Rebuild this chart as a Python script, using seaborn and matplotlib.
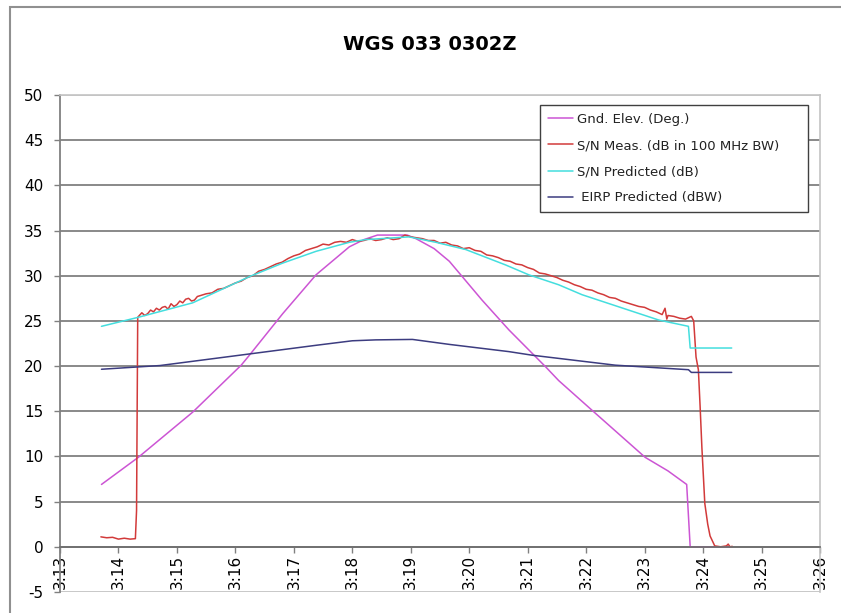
import pandas as pd
import matplotlib
matplotlib.use("Agg")
import matplotlib.pyplot as plt
import seaborn as sns
from matplotlib.patches import Rectangle

# chart text
title = "WGS 033 0302Z"
series_names = ["Gnd. Elev. (Deg.)", "S/N Meas. (dB in 100 MHz BW)",
                "S/N Predicted (dB)", " EIRP Predicted (dBW)"]
series_colors = ["#cc55d4", "#d23a3a", "#44dede", "#3c3c80"]
tick_minutes = list(range(13, 27))
tick_labels = [f"3:{m}" for m in tick_minutes]

# time in minutes after 3:00
elev_t = [13.71, 14.34, 15.27, 16.10, 16.24, 16.81, 17.38, 17.95, 18.20, 18.43,
          18.94, 19.09, 19.40, 19.66, 20.22, 20.68, 21.31, 21.53, 22.12, 23.01,
          23.40, 23.72, 23.78, 24.49]
elev_v = [6.9, 9.9, 14.9, 20.1, 21.2, 25.8, 30.1, 33.2, 34.0, 34.5,
          34.5, 34.1, 33.0, 31.6, 27.3, 24.0, 19.9, 18.4, 15.0, 9.9,
          8.4, 6.9, 0.0, 0.0]

meas_t = [13.70, 13.80, 13.90, 14.00, 14.10, 14.20, 14.29, 14.31, 14.33,
          14.40, 14.45, 14.50, 14.55, 14.60, 14.65, 14.70, 14.75, 14.80, 14.85,
          14.90, 14.95, 15.00, 15.05, 15.10, 15.15, 15.20, 15.25, 15.30, 15.35,
          15.40, 15.50, 15.60, 15.70, 15.80, 15.90, 16.00, 16.10, 16.20, 16.30,
          16.40, 16.50, 16.60, 16.70, 16.80, 16.90, 17.00, 17.10, 17.20, 17.30,
          17.40, 17.50, 17.60, 17.70, 17.80, 17.90, 18.00, 18.10, 18.20, 18.30,
          18.40, 18.50, 18.60, 18.70, 18.80, 18.90, 19.00, 19.10, 19.20, 19.30,
          19.40, 19.50, 19.60, 19.70, 19.80, 19.90, 20.00, 20.10, 20.20, 20.30,
          20.40, 20.50, 20.60, 20.70, 20.80, 20.90, 21.00, 21.10, 21.20, 21.30,
          21.40, 21.50, 21.60, 21.70, 21.80, 21.90, 22.00, 22.10, 22.20, 22.30,
          22.40, 22.50, 22.60, 22.70, 22.80, 22.90, 23.00, 23.10, 23.20, 23.30,
          23.35, 23.38, 23.40, 23.50, 23.60, 23.70, 23.80, 23.84, 23.88, 23.92,
          23.95, 23.98, 24.03, 24.08, 24.12, 24.20, 24.30, 24.40, 24.43, 24.46,
          24.50]
meas_v = [1.1, 1.0, 1.05, 0.85, 0.95, 0.85, 0.9, 4.0, 25.4,
          25.9, 25.6, 25.8, 26.2, 26.0, 26.4, 26.2, 26.5, 26.6, 26.3,
          26.9, 26.6, 26.8, 27.2, 27.0, 27.4, 27.5, 27.2, 27.3, 27.7,
          27.8, 28.0, 28.1, 28.5, 28.6, 28.9, 29.2, 29.4, 29.8, 30.0,
          30.5, 30.7, 31.0, 31.3, 31.5, 31.9, 32.2, 32.4, 32.8, 33.0,
          33.2, 33.5, 33.4, 33.7, 33.8, 33.7, 34.0, 33.8, 33.9, 34.1,
          33.9, 34.0, 34.2, 34.0, 34.1, 34.5, 34.3, 34.2, 34.1, 33.9,
          33.9, 33.6, 33.7, 33.4, 33.3, 33.0, 33.1, 32.8, 32.7, 32.3,
          32.2, 32.0, 31.7, 31.6, 31.3, 31.2, 30.9, 30.7, 30.3, 30.2,
          30.0, 29.8, 29.5, 29.3, 29.0, 28.8, 28.5, 28.4, 28.1, 27.9,
          27.6, 27.5, 27.2, 27.0, 26.8, 26.6, 26.5, 26.2, 26.0, 25.7,
          26.4, 25.2, 25.6, 25.5, 25.3, 25.2, 25.5, 25.0, 21.0, 19.6,
          15.5, 11.0, 4.8, 2.5, 1.2, 0.1, 0.0, 0.1, 0.3, 0.0,
          0.05]

pred_t = [13.71, 14.34, 15.27, 16.24, 16.81, 17.38, 17.95, 18.23, 18.97, 19.43,
          19.94, 20.62, 21.02, 21.53, 21.93, 23.24, 23.75, 23.78, 24.49]
pred_v = [24.4, 25.4, 27.0, 29.9, 31.4, 32.7, 33.7, 34.0, 34.3, 33.7,
          32.9, 31.2, 30.1, 29.0, 27.9, 25.1, 24.4, 22.0, 22.0]

eirp_t = [13.71, 14.71, 16.19, 17.38, 18.00, 18.40, 19.03, 19.66, 20.68, 21.08,
          22.50, 23.75, 23.80, 24.49]
eirp_v = [19.65, 20.06, 21.3, 22.3, 22.8, 22.9, 22.95, 22.4, 21.6, 21.2,
          20.1, 19.6, 19.3, 19.3]


def build_frame():
    parts = []
    for name, t, v in zip(series_names, [elev_t, meas_t, pred_t, eirp_t],
                          [elev_v, meas_v, pred_v, eirp_v]):
        parts.append(pd.DataFrame({"minute": t, "value": v, "series": name}))
    return pd.concat(parts, ignore_index=True)


def main():
    sns.set_theme(style="white")
    plt.rcParams["font.family"] = ["DejaVu Sans"]
    plt.rcParams["axes.unicode_minus"] = False

    data = build_frame()
    fig = plt.figure(figsize=(8.41, 6.13), dpi=100)
    ax = fig.add_axes([0.0713, 0.0343, 0.9037, 0.8107])

    sns.lineplot(data=data, x="minute", y="value", hue="series",
                 hue_order=series_names, palette=dict(zip(series_names, series_colors)),
                 estimator=None, sort=False, linewidth=1.1, ax=ax)

    ax.set_xlim(13, 26)
    ax.set_ylim(-5, 50)
    ax.set_xlabel("")
    ax.set_ylabel("")

    # x axis crosses at 0 (this resets the ticks, so ticks come after)
    ax.spines["bottom"].set_position(("data", 0))
    ax.spines["bottom"].set_color("#707070")
    ax.spines["bottom"].set_linewidth(1.3)
    ax.spines["left"].set_color("#808080")
    ax.spines["left"].set_linewidth(1.3)
    for side in ["top", "right"]:
        ax.spines[side].set_color("#c4c4c4")
        ax.spines[side].set_linewidth(1.2)

    ax.set_yticks(range(-5, 51, 5))
    ax.set_xticks(tick_minutes)
    ax.set_xticklabels(tick_labels)

    # gridlines, light border at top and bottom
    ax.grid(axis="y", color="#808080", linewidth=1.3)
    ax.set_axisbelow(True)
    glines = ax.get_ygridlines()
    glines[0].set_color("#c4c4c4")
    glines[-1].set_color("#c4c4c4")

    ax.tick_params(axis="y", left=True, direction="out", length=4, width=1,
                   color="#808080", labelsize=11, labelcolor="black", pad=8)
    ax.tick_params(axis="x", bottom=True, direction="out", length=4, width=1,
                   color="#808080", labelsize=11, labelcolor="black", pad=2,
                   labelrotation=90)

    handles, labels = ax.get_legend_handles_labels()
    leg = ax.legend(handles, labels, loc="upper left",
                    bbox_to_anchor=(0.632, 0.98, 0.352, 0.0), mode="expand",
                    borderaxespad=0, fontsize=9.5, frameon=True, fancybox=False,
                    handlelength=1.9, handletextpad=0.3, labelspacing=1.0,
                    borderpad=0.6, edgecolor="#404040", framealpha=1)
    leg.get_frame().set_linewidth(1.0)
    for t in leg.get_texts():
        t.set_color("#222222")

    fig.text(0.511, 0.928, title, ha="center", va="center",
             fontsize=14, fontweight="bold", color="black")

    # outer chart border, cut off at the right and bottom like the picture
    fig.patches.append(Rectangle((10 / 841, -0.1), 1.2, 1.0886,
                                 transform=fig.transFigure, fill=False,
                                 edgecolor="#909090", linewidth=1.5))

    fig.savefig("out.png", dpi=100)
    plt.close()


if __name__ == "__main__":
    main()
